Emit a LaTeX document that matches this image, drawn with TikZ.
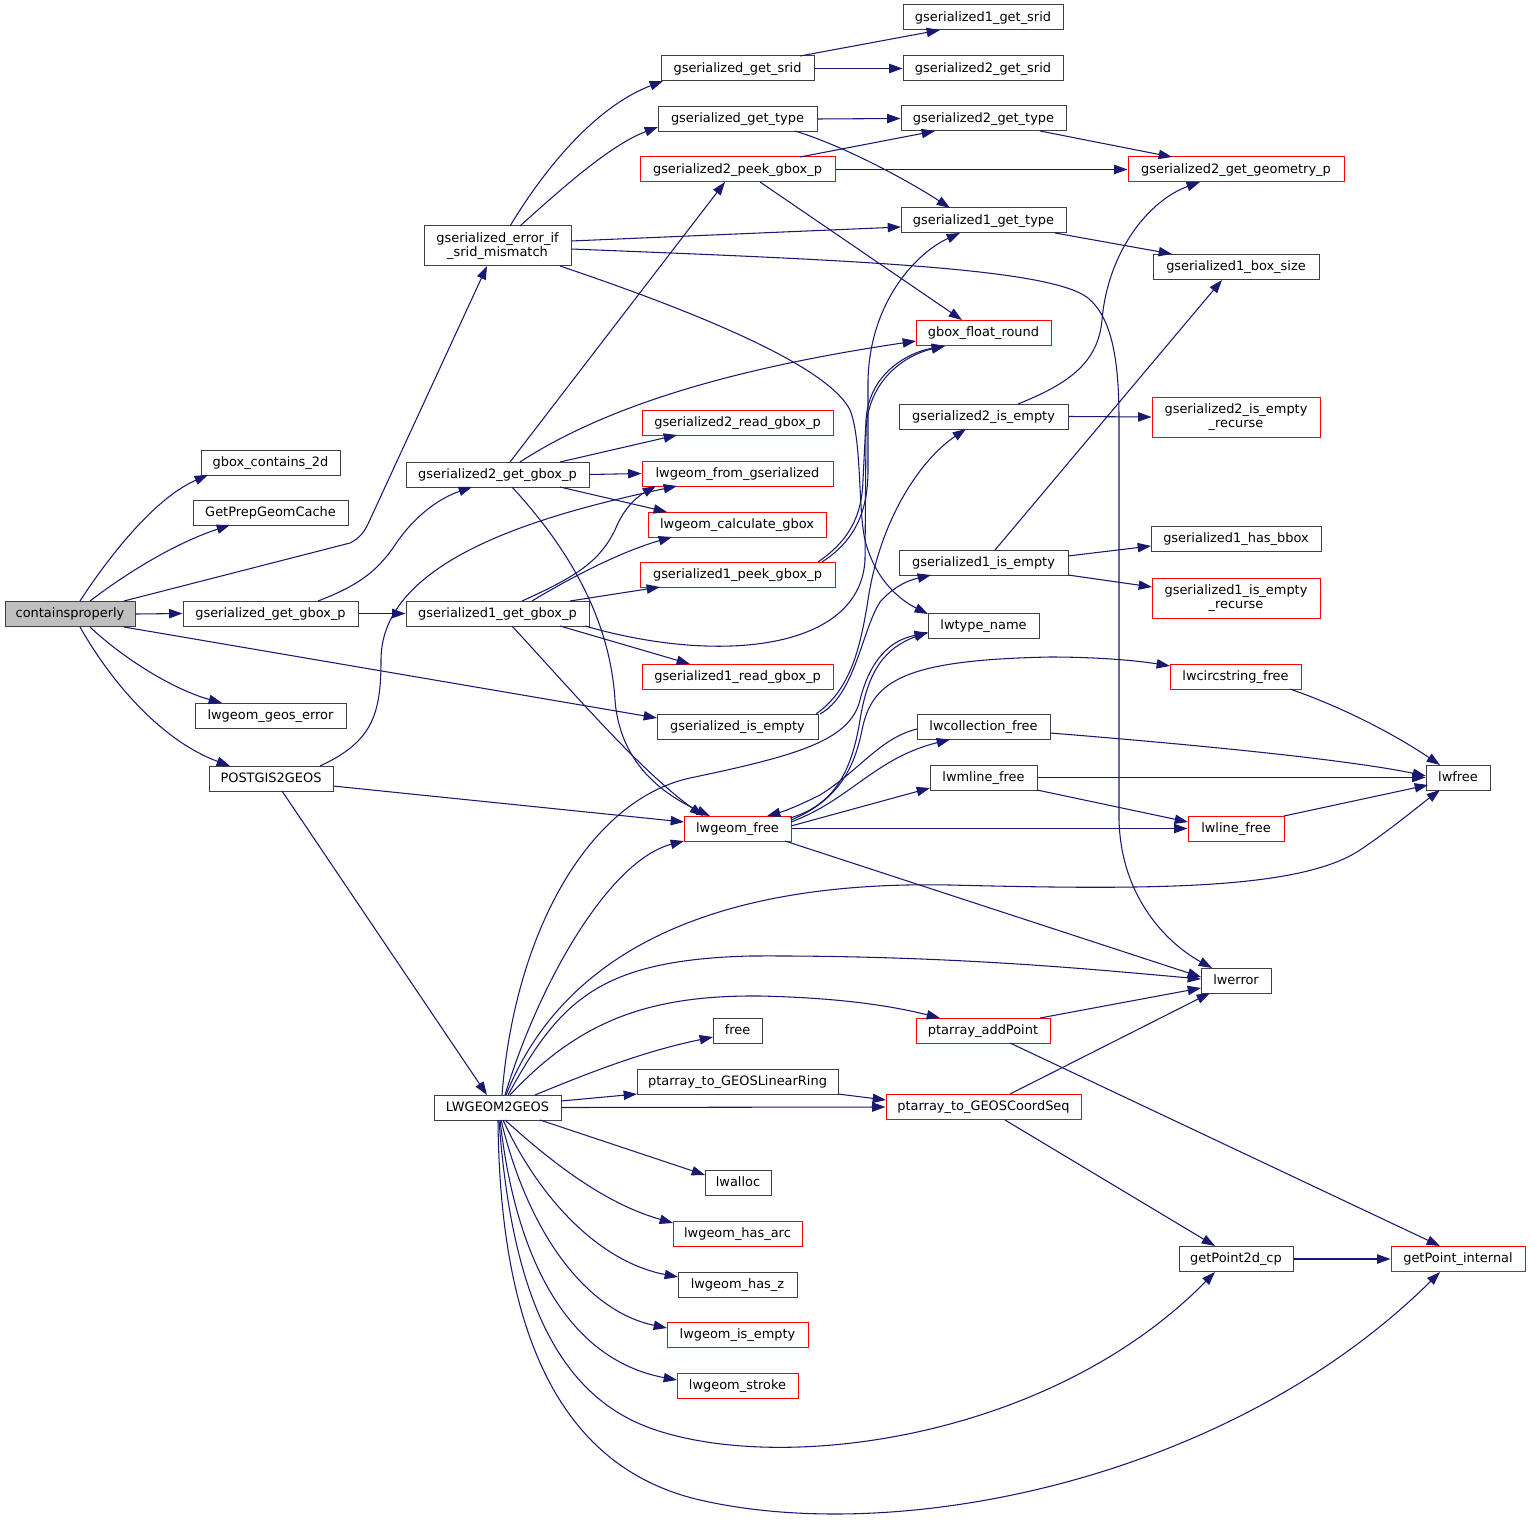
\documentclass[tikz,border=0pt]{standalone}
\usepackage{fontspec}
\newfontfamily\dv{DejaVu Sans}
\usetikzlibrary{arrows.meta,calc}
\definecolor{edgec}{HTML}{191970}
\definecolor{nodeb}{HTML}{404040}
\definecolor{rootf}{HTML}{BFBFBF}
\definecolor{redb}{HTML}{FF0000}
\begin{document}
\begin{tikzpicture}[x=0.75pt,y=-0.75pt,
 fn/.style={draw=nodeb, line width=0.75pt, inner sep=0pt, minimum height=18.75pt, minimum width=#1*0.75pt, text height=7.9pt, text depth=2.3pt, font=\dv\fontsize{9.7}{11}\selectfont},
 rn/.style={fn=#1, draw=redb},
 fntwo/.style={draw=nodeb, line width=0.75pt, inner sep=0pt, minimum height=30pt, minimum width=#1*0.75pt, align=center, font=\dv\fontsize{9.7}{10.5}\selectfont},
 rntwo/.style={fntwo=#1, draw=redb},
 edg/.style={draw=edgec, line width=0.8pt, -{Triangle[length=10pt,width=7pt]}}]
\useasboundingbox (0,0) rectangle (1531,1523);
% column 1
\node[fn=130, fill=rootf] (cp) at (70,614) {containsproperly};
% column 2
\node[fn=139] (gbc) at (270.5,462.5) {gbox\_contains\_2d};
\node[fn=155] (gpc) at (270.5,512.5) {GetPrepGeomCache};
\node[fn=175] (ggb) at (270.5,613.5) {gserialized\_get\_gbox\_p};
\node[fn=151] (lge) at (270.5,715.5) {lwgeom\_geos\_error};
\node[fn=124] (p2g) at (271,778.5) {POSTGIS2GEOS};
% column 3
\node[fntwo=147] (sm) at (497.5,246) {gserialized\_error\_if\\\_srid\_mismatch};
\node[fn=183] (g2gb) at (497.5,474.5) {gserialized2\_get\_gbox\_p};
\node[fn=183] (g1gb) at (497.5,613.5) {gserialized1\_get\_gbox\_p};
\node[fn=127] (l2g) at (497.5,1107.5) {LWGEOM2GEOS};
% column 4
\node[fn=153] (gsrid) at (737.5,68.5) {gserialized\_get\_srid};
\node[fn=159] (gtype) at (737.5,119) {gserialized\_get\_type};
\node[rn=195] (g2peek) at (737.5,169.5) {gserialized2\_peek\_gbox\_p};
\node[rn=191] (g2read) at (737.5,422.5) {gserialized2\_read\_gbox\_p};
\node[rn=191] (lfg) at (737.5,473.5) {lwgeom\_from\_gserialized};
\node[rn=178] (lcg) at (737,524.5) {lwgeom\_calculate\_gbox};
\node[rn=195] (g1peek) at (737.5,574.5) {gserialized1\_peek\_gbox\_p};
\node[rn=191] (g1read) at (737.5,676.5) {gserialized1\_read\_gbox\_p};
\node[fn=161] (gie) at (737.5,727) {gserialized\_is\_empty};
\node[rn=107] (lfree) at (737.5,828.5) {lwgeom\_free};
\node[fn=49] (free) at (737.5,1030.5) {free};
\node[fn=201] (lring) at (737.5,1081.5) {ptarray\_to\_GEOSLinearRing};
\node[fn=66] (lalloc) at (738,1182.5) {lwalloc};
\node[rn=129] (harc) at (737.5,1233.5) {lwgeom\_has\_arc};
\node[fn=119] (hz) at (737.5,1284.5) {lwgeom\_has\_z};
\node[rn=141] (lie) at (737.5,1334.5) {lwgeom\_is\_empty};
\node[rn=121] (lstr) at (737.5,1385.5) {lwgeom\_stroke};
% column 5
\node[fn=160] (g1srid) at (983,17.5) {gserialized1\_get\_srid};
\node[fn=160] (g2srid) at (983,68.5) {gserialized2\_get\_srid};
\node[fn=165] (g2type) at (983.5,118.5) {gserialized2\_get\_type};
\node[fn=165] (g1type) at (983.5,220.5) {gserialized1\_get\_type};
\node[rn=135] (gfr) at (983.5,333) {gbox\_float\_round};
\node[fn=169] (g2ie) at (983.5,416.5) {gserialized2\_is\_empty};
\node[fn=169] (g1ie) at (983.5,562.5) {gserialized1\_is\_empty};
\node[fn=111] (ltn) at (983.5,625.5) {lwtype\_name};
\node[fn=133] (lcf) at (983.5,727) {lwcollection\_free};
\node[fn=107] (lmf) at (983.5,777.5) {lwmline\_free};
\node[rn=134] (pap) at (983,1030.5) {ptarray\_addPoint};
\node[rn=195] (pcs) at (983.5,1107) {ptarray\_to\_GEOSCoordSeq};
% column 6
\node[rn=216] (g2geo) at (1236,169.5) {gserialized2\_get\_geometry\_p};
\node[fn=166] (g1bs) at (1236,267) {gserialized1\_box\_size};
\node[rntwo=168] (g2ier) at (1236,417) {gserialized2\_is\_empty\\\_recurse};
\node[fn=170] (g1hb) at (1236,538.5) {gserialized1\_has\_bbox};
\node[rntwo=168] (g1ier) at (1236,598) {gserialized1\_is\_empty\\\_recurse};
\node[rn=131] (lcs) at (1235.5,676.5) {lwcircstring\_free};
\node[rn=96] (llf) at (1236,828.5) {lwline\_free};
\node[fn=70] (lerr) at (1236,980.5) {lwerror};
\node[fn=114] (gp2d) at (1236,1259) {getPoint2d\_cp};
% column 7
\node[fn=64] (lwf) at (1458,777.5) {lwfree};
\node[rn=134] (gpi) at (1458,1259) {getPoint\_internal};

% ---- edges from containsproperly
\draw[edg] ($(cp)+(10,-13)$) .. controls (100,570) and (150,500) .. ($(gbc)+(-62.5,12.5)$);
\draw[edg] ($(cp)+(20,-13)$) .. controls (120,578) and (170,545) .. ($(gpc)+(-40.5,12.5)$);
\draw[edg] ($(cp)+(54,-13)$) -- (350,543) .. controls (360,538) and (364,532) .. (368,524) -- ($(sm)+(-10.5,20)$);
\draw[edg] (cp.east) -- (ggb.west);
\draw[edg] ($(cp)+(54,13)$) -- ($(gie)+(-80.5,-9)$);
\draw[edg] ($(cp)+(20,13)$) .. controls (125,660) and (175,690) .. ($(lge)+(-48.5,-12.5)$);
\draw[edg] ($(cp)+(10,13)$) .. controls (110,680) and (160,740) .. ($(p2g)+(-41,-12.5)$);
% ---- gserialized_get_gbox_p
\draw[edg] (ggb.east) -- (g1gb.west);
\draw[edg] ($(ggb)+(47.5,-12.5)$) .. controls (360,585) and (378,570) .. (395,545) .. controls (415,515) and (440,498) .. ($(g2gb)+(-25.5,12.5)$);
% ---- POSTGIS2GEOS
\draw[edg] ($(p2g)+(49,-12.5)$) .. controls (372,742) and (381,715) .. (381,660) .. controls (381,560) and (540,515) .. ($(lfg)+(-60.5,12.5)$);
\draw[edg] ($(p2g)+(62,7.5)$) -- ($(lfree)+(-53.5,-6.5)$);
\draw[edg] ($(p2g)+(11,12.5)$) -- ($(l2g)+(-10.5,-12.5)$);
% ---- srid mismatch
\draw[edg] ($(sm)+(12.5,-20)$) .. controls (550,160) and (600,105) .. ($(gsrid)+(-74.5,12.5)$);
\draw[edg] ($(sm)+(22.5,-20)$) .. controls (560,190) and (610,145) .. ($(gtype)+(-79.5,8)$);
\draw[edg] ($(sm)+(73.5,-5)$) -- ($(g1type)+(-82.5,6.5)$);
\draw[edg] ($(sm)+(73.5,3)$) .. controls (850,260) and (1050,268) .. (1088,298) .. controls (1112,318) and (1119,360) .. (1119,420) -- (1119,820) .. controls (1121,900) and (1170,945) .. ($(lerr)+(-24,-12.5)$);
\draw[edg] ($(sm)+(62.5,20)$) .. controls (720,320) and (830,370) .. (850,410) .. controls (862,440) and (858,510) .. (865,540) .. controls (875,580) and (900,600) .. ($(ltn)+(-55.5,-11.5)$);
% ---- gserialized2_get_gbox_p
\draw[edg] ($(g2gb)+(12.5,-12.5)$) -- ($(g2peek)+(-12.5,12.5)$);
\draw[edg] ($(g2gb)+(22.5,-12.5)$) .. controls (600,410) and (720,370) .. ($(gfr)+(-67.5,8)$);
\draw[edg] ($(g2gb)+(62.5,-12.5)$) -- ($(g2read)+(-60.5,12.5)$);
\draw[edg] (g2gb.east) -- (lfg.west);
\draw[edg] ($(g2gb)+(62.5,12.5)$) -- ($(lcg)+(-70,-12.5)$);
\draw[edg] ($(g2gb)+(14.5,12.5)$) .. controls (570,550) and (610,620) .. (615,700) .. controls (620,765) and (665,795) .. ($(lfree)+(-27.5,-12.5)$);
% ---- gserialized1_get_gbox_p
\draw[edg] ($(g1gb)+(72.5,-12.5)$) -- ($(g1peek)+(-77.5,12.5)$);
\draw[edg] ($(g1gb)+(87.5,12.5)$) .. controls (720,665) and (860,650) .. (865,560) -- (866,430) .. controls (868,380) and (905,355) .. ($(gfr)+(-38.5,13)$);
\draw[edg] ($(g1gb)+(24.5,-12.5)$) .. controls (580,575) and (600,560) .. (615,530) .. controls (625,505) and (640,495) .. ($(lfg)+(-81.5,12.5)$);
\draw[edg] ($(g1gb)+(34.5,-12.5)$) .. controls (570,578) and (620,552) .. ($(lcg)+(-65,12.5)$);
\draw[edg] ($(g1gb)+(62.5,12.5)$) -- ($(g1read)+(-47.5,-12.5)$);
\draw[edg] ($(g1gb)+(14.5,12.5)$) .. controls (580,700) and (640,770) .. ($(lfree)+(-34.5,-12.5)$);
% ---- column 4 upper
\draw[edg] ($(gsrid)+(62.5,-12.5)$) -- ($(g1srid)+(-43,12.5)$);
\draw[edg] (gsrid.east) -- (g2srid.west);
\draw[edg] (gtype.east) -- (g2type.west);
\draw[edg] ($(gtype)+(57.5,12)$) .. controls (850,148) and (915,185) .. ($(g1type)+(-33.5,-12.5)$);
\draw[edg] ($(g2peek)+(62.5,-12.5)$) -- ($(g2type)+(-48.5,12.5)$);
\draw[edg] (g2peek.east) -- (g2geo.west);
\draw[edg] ($(g2peek)+(22.5,12.5)$) -- ($(gfr)+(-21.5,-13)$);
\draw[edg] ($(g1peek)+(80.5,-12.5)$) .. controls (850,540) and (862,515) .. (863,480) -- (866,420) .. controls (869,372) and (910,352) .. ($(gfr)+(-38.5,13)$);
\draw[edg] ($(g1peek)+(84.5,-12.5)$) .. controls (856,540) and (868,510) .. (868,470) -- (868,380) .. controls (870,300) and (918,252) .. ($(g1type)+(-23.5,12.5)$);
% ---- column 5 upper
\draw[edg] ($(g2type)+(56.5,12.5)$) -- ($(g2geo)+(-64,-12.5)$);
\draw[edg] ($(g1type)+(71.5,12.5)$) -- ($(g1bs)+(-64,-13)$);
\draw[edg] ($(g2ie)+(34.5,-12.5)$) .. controls (1065,385) and (1098,365) .. (1102,320) .. controls (1108,250) and (1150,200) .. ($(g2geo)+(-36,12.5)$);
\draw[edg] (g2ie.east) -- (g2ier.west);
\draw[edg] ($(g1ie)+(11.5,-12.5)$) -- ($(g1bs)+(-14,13)$);
\draw[edg] ($(g1ie)+(84.5,-6.5)$) -- ($(g1hb)+(-85,7.5)$);
\draw[edg] ($(g1ie)+(84.5,12.5)$) -- ($(g1ier)+(-84,-11)$);
% ---- gserialized_is_empty
\draw[edg] ($(gie)+(82.5,-13)$) .. controls (855,695) and (862,630) .. (880,602) .. controls (895,585) and (910,580) .. ($(g1ie)+(-52.5,12.5)$);
\draw[edg] ($(gie)+(78.5,-13)$) .. controls (850,690) and (860,650) .. (868,600) .. controls (880,520) and (920,460) .. ($(g2ie)+(-17.5,12.5)$);
% ---- lwgeom_free
\draw[edg] ($(lfree)+(52.5,-10.5)$) .. controls (835,805) and (852,770) .. (860,720) .. controls (868,670) and (885,648) .. ($(ltn)+(-55.5,6.5)$);
\draw[edg] ($(lfree)+(53.5,-8.5)$) .. controls (840,800) and (855,765) .. (862,730) .. controls (872,680) and (905,660) .. (1050,657) .. controls (1100,657) and (1140,661) .. ($(lcs)+(-65.5,-10.5)$);
\draw[edg] ($(lfree)+(53.5,-6.5)$) .. controls (850,800) and (875,758) .. ($(lcf)+(-33.5,12.5)$);
\draw[edg] ($(lfree)+(53.5,-2.5)$) -- ($(lmf)+(-53.5,10.5)$);
\draw[edg] (lfree.east) -- (llf.west);
\draw[edg] ($(lfree)+(47.5,12.5)$) -- ($(lerr)+(-35,-3.5)$);
% ---- free functions
\draw[edg] ($(lcf)+(-66.5,2)$) .. controls (880,738) and (860,770) .. (820,795) .. controls (800,805) and (785,811) .. ($(lfree)+(29.5,-12.5)$);
\draw[edg] ($(lcf)+(66.5,6)$) .. controls (1200,745) and (1350,760) .. ($(lwf)+(-32,-1.5)$);
\draw[edg] (lmf.east) -- (lwf.west);
\draw[edg] ($(lmf)+(53.5,12.5)$) -- ($(llf)+(-48,-6.5)$);
\draw[edg] ($(llf)+(48,-12.5)$) -- ($(lwf)+(-30,7.5)$);
\draw[edg] ($(lcs)+(54.5,12.5)$) .. controls (1350,710) and (1400,738) .. ($(lwf)+(-18,-12.5)$);
% ---- LWGEOM2GEOS
\draw[edg] ($(l2g)+(7.5,-12.5)$) .. controls (540,980) and (610,860) .. ($(lfree)+(-53.5,12.5)$);
\draw[edg] ($(l2g)+(4.5,-12.5)$) .. controls (515,930) and (590,800) .. (690,778) .. controls (800,755) and (850,740) .. (860,700) .. controls (870,660) and (890,640) .. ($(ltn)+(-55.5,7.5)$);
\draw[edg] ($(l2g)+(8.5,-12.5)$) .. controls (560,960) and (700,880) .. (950,885) .. controls (1150,890) and (1300,890) .. (1360,850) .. controls (1390,830) and (1420,805) .. ($(lwf)+(-18,12.5)$);
\draw[edg] ($(l2g)+(10.5,-12.5)$) .. controls (560,1000) and (600,960) .. (750,956) .. controls (950,955) and (1100,970) .. ($(lerr)+(-35,-1.5)$);
\draw[edg] ($(l2g)+(12.5,-12.5)$) .. controls (580,1020) and (650,995) .. (760,996) .. controls (850,998) and (900,1008) .. ($(pap)+(-43,-12.5)$);
\draw[edg] ($(l2g)+(37.5,-12.5)$) .. controls (600,1068) and (650,1050) .. ($(free)+(-24.5,6.5)$);
\draw[edg] ($(l2g)+(63.5,-6.5)$) -- ($(lring)+(-100.5,12.5)$);
\draw[edg] (l2g.east) -- (pcs.west);
\draw[edg] ($(l2g)+(42.5,12.5)$) -- ($(lalloc)+(-33,-7.5)$);
\draw[edg] ($(l2g)+(7.5,12.5)$) .. controls (560,1170) and (610,1205) .. ($(harc)+(-64.5,-10.5)$);
\draw[edg] ($(l2g)+(5.5,12.5)$) .. controls (540,1200) and (600,1262) .. ($(hz)+(-59.5,-7.5)$);
\draw[edg] ($(l2g)+(3.5,12.5)$) .. controls (530,1240) and (590,1312) .. ($(lie)+(-70.5,-6.5)$);
\draw[edg] ($(l2g)+(2.5,12.5)$) .. controls (518,1280) and (580,1362) .. ($(lstr)+(-60.5,-5.5)$);
\draw[edg] ($(l2g)+(1.5,12.5)$) .. controls (512,1300) and (560,1395) .. (650,1428) .. controls (780,1475) and (1050,1440) .. ($(gp2d)+(-21,13)$);
\draw[edg] ($(l2g)+(0.5,12.5)$) .. controls (500,1350) and (570,1470) .. (700,1500) .. controls (900,1546) and (1230,1480) .. ($(gpi)+(-18,13)$);
% ---- lower right
\draw[edg] ($(lring)+(100.5,12.5)$) -- ($(pcs)+(-97.5,-7)$);
\draw[edg] ($(pap)+(57,-12.5)$) -- ($(lerr)+(-35,7.5)$);
\draw[edg] ($(pap)+(27,12.5)$) -- ($(gpi)+(-18,-13)$);
\draw[edg] ($(pcs)+(26.5,-13)$) -- ($(lerr)+(-26,12.5)$);
\draw[edg] ($(pcs)+(21.5,13)$) -- ($(gp2d)+(-21,-13)$);
\draw[edg] (gp2d.east) -- (gpi.west);
\end{tikzpicture}
\end{document}
